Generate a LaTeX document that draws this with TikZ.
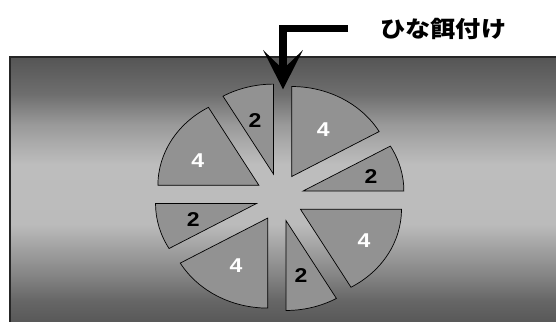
\documentclass[tikz,border=0pt]{standalone}
\usepackage{fontspec}
\setmainfont{Liberation Sans}
\newfontfamily\jpfont{Noto Sans CJK JP}
\usetikzlibrary{arrows.meta}
\definecolor{g0}{HTML}{585858}
\definecolor{g1}{HTML}{666666}
\definecolor{g2}{HTML}{858585}
\definecolor{g3}{HTML}{A5A5A5}
\definecolor{g4}{HTML}{BBBBBB}
\definecolor{g5}{HTML}{BDBDBD}
\definecolor{g6}{HTML}{ACACAC}
\definecolor{g7}{HTML}{999999}
\definecolor{g8}{HTML}{6E6E6E}
\definecolor{g9}{HTML}{555555}
\definecolor{slicegray}{HTML}{929292}
\pgfdeclareverticalshading{bandshade}{100bp}{color(0bp)=(g0); color(25bp)=(g0); color(29bp)=(g1); color(33.9bp)=(g2); color(39.6bp)=(g3); color(43.4bp)=(g4); color(54.7bp)=(g5); color(58.5bp)=(g6); color(62.3bp)=(g7); color(68bp)=(g8); color(75bp)=(g9); color(100bp)=(g9)}
\begin{document}
\begin{tikzpicture}[x=1pt,y=1pt,
  slice/.style={fill=slicegray, draw=black, line width=0.7pt},
  lab/.style={font=\bfseries\fontsize{20}{23}\selectfont, inner sep=0pt, xscale=1.15},
  labw/.style={lab, text=white},
  labb/.style={lab, text=black}]
\clip (0,0) rectangle (556,-321);
\fill[white] (0,0) rectangle (556,-321);
\shade[shading=bandshade] (10,-57) rectangle (557,-322);
\draw[line width=1.5pt, draw=black!85] (10,-322) -- (10,-57) -- (557,-57);
\coordinate (C) at (279.7,-197.3);
\foreach \s/\e in {30/90, 0/30, -60/0, -90/-60, -150/-90, -180/-150, 120/180, 90/120} {
  \pgfmathsetmacro\m{(\s+\e)/2}
  \draw[slice, shift={(C)}] (\m:24) -- ++(\s:101 and 90) arc[start angle=\s, end angle=\e, x radius=101, y radius=90] -- cycle;
}
\node[labw] (l1) at (323.3,-130) {4};
\node[labb] (l2) at (371,-176.7) {2};
\node[labw] (l3) at (364,-240.7) {4};
\node[labb] (l4) at (301,-275.7) {2};
\node[labw] (l5) at (236,-266) {4};
\node[labb] (l6) at (193.3,-220) {2};
\node[labw] (l7) at (197.7,-160.7) {4};
\node[labb] (l8) at (255,-120.7) {2};
\coordinate (arrowstart) at (348,-28.7);
\coordinate (arrowtip) at (283,-89.3);
\draw[line width=7.5pt, -{Stealth[length=39pt,width=39.4pt,inset=19pt]}] (arrowstart) -| (arrowtip);
\node[font=\jpfont\bfseries\fontsize{22.5}{26}\selectfont, inner sep=0pt, xscale=1.12] (title) at (443.3,-28.8) {ひな餌付け};
\end{tikzpicture}
\end{document}
